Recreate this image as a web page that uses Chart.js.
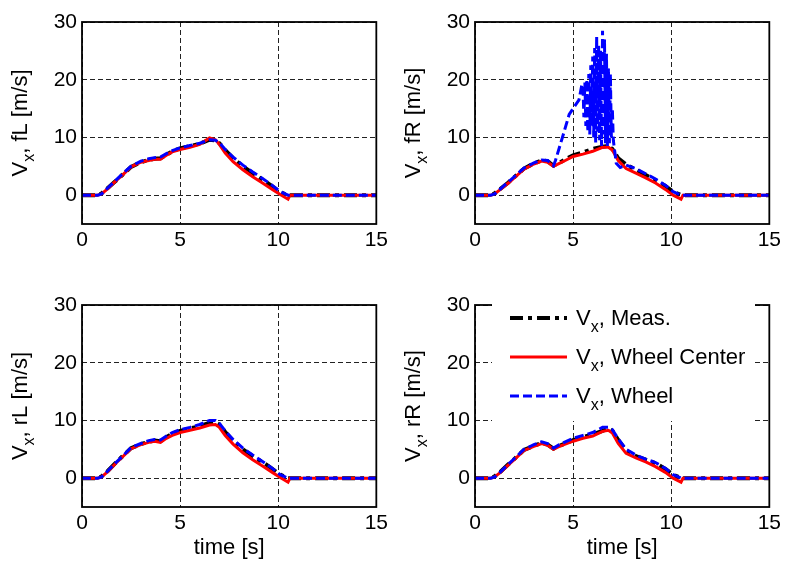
<!DOCTYPE html>
<html>
<head>
<meta charset="utf-8">
<script src="https://cdn.jsdelivr.net/npm/chart.js@4.4.1/dist/chart.umd.min.js"></script>
<style>
  body { margin: 0; background: #fff; }
  canvas { position: absolute; }
</style>
</head>
<body>
<canvas id="fL" width="392" height="283" style="left:0;top:0"></canvas>
<canvas id="fR" width="392" height="283" style="left:393px;top:0"></canvas>
<canvas id="rL" width="392" height="283" style="left:0;top:283px"></canvas>
<canvas id="rR" width="392" height="283" style="left:393px;top:283px"></canvas>
<script>
// axis ticks
const xTicks = [0, 5, 10, 15];
const yTicks = [0, 10, 20, 30];

// common time base [s]
const time = [0, 0.8, 1.0, 1.3, 1.7, 2.1, 2.5, 3.0, 3.4, 3.7, 4.0, 4.3, 4.6, 5.0, 5.5, 6.0, 6.5, 6.8, 7.0, 7.3, 7.7, 8.2, 8.7, 9.2, 9.7, 10.1, 10.5, 10.6, 15];

// front left
const fLMeas   = [0, 0, 0.3, 1.2, 2.4, 3.6, 4.9, 5.7, 6.1, 6.3, 6.4, 7.0, 7.6, 8.1, 8.5, 8.9, 9.6, 9.5, 9.0, 7.8, 6.4, 5.0, 3.8, 2.7, 1.5, 0.5, 0, 0, 0];
const fLCenter = [0, 0, 0.2, 1.1, 2.4, 3.6, 4.9, 5.7, 6.0, 6.2, 6.2, 6.9, 7.5, 7.9, 8.3, 8.8, 9.9, 9.6, 8.8, 7.3, 5.8, 4.4, 3.2, 2.1, 1.0, 0.1, -0.7, 0, 0];
const fLWheel  = [0, 0, 0.2, 1.2, 2.5, 3.8, 5.0, 5.9, 6.3, 6.5, 6.6, 7.2, 7.7, 8.2, 8.6, 9.0, 9.6, 9.5, 9.1, 7.9, 6.6, 5.2, 4.0, 2.9, 1.7, 0.6, 0, 0, 0];

// front right
const fRMeas   = [0, 0, 0.3, 1.1, 2.2, 3.4, 4.6, 5.5, 6.0, 5.9, 5.1, 5.6, 6.2, 6.9, 7.4, 8.0, 8.4, 8.5, 8.0, 6.4, 5.3, 4.4, 3.5, 2.6, 1.6, 0.6, 0, 0, 0];
const fRCenter = [0, 0, 0.2, 1.0, 2.1, 3.3, 4.5, 5.4, 5.9, 5.7, 5.0, 5.5, 6.0, 6.7, 7.1, 7.6, 8.3, 8.3, 7.8, 6.0, 4.6, 3.8, 3.0, 2.1, 1.0, 0.0, -0.7, 0, 0];
// front right wheel speed has its own time base (wheel spin)
const fRWheelTime = [0, 0.8, 1.0, 1.3, 1.7, 2.1, 2.5, 3.0, 3.4, 3.7, 4.0, 4.1, 4.5, 4.8, 5.1, 5.3, 5.45,
  5.50, 5.55, 5.60, 5.65, 5.70, 5.75, 5.80, 5.85, 5.90, 5.95, 6.00, 6.05, 6.10, 6.15, 6.20, 6.25,
  6.30, 6.35, 6.40, 6.45, 6.50, 6.55, 6.60, 6.65, 6.70, 6.75, 6.80, 6.85, 6.90, 6.95, 7.00,
  7.05, 7.2, 7.4, 7.7, 8.2, 8.7, 9.2, 9.7, 10.1, 10.5, 15];
const fRWheel = [0, 0, 0.2, 1.1, 2.3, 3.5, 4.7, 5.6, 6.1, 6.0, 5.1, 6.0, 10.5, 14.0, 15.5, 16.5, 19.2,
  19.0, 13.5, 19.5, 12.0, 20.0, 11.0, 21.0, 10.5, 22.5, 12.0, 24.0, 10.0, 25.5, 9.0, 27.5, 11.0,
  26.0, 9.5, 25.0, 8.5, 28.5, 10.5, 27.0, 9.0, 24.5, 8.5, 22.0, 9.0, 21.0, 10.0, 15.0,
  9.5, 5.5, 4.8, 5.2, 4.6, 3.7, 2.8, 1.7, 0.6, 0, 0];

// rear left
const rLMeas   = [0, 0, 0.3, 1.2, 2.6, 3.9, 5.2, 5.9, 6.3, 6.5, 6.4, 7.1, 7.7, 8.2, 8.6, 9.0, 9.6, 9.7, 9.3, 8.0, 6.5, 5.0, 3.8, 2.8, 1.6, 0.6, 0, 0, 0];
const rLCenter = [0, 0, 0.2, 1.1, 2.5, 3.8, 5.1, 5.8, 6.2, 6.4, 6.2, 6.9, 7.4, 7.9, 8.3, 8.7, 9.2, 9.3, 8.8, 7.4, 5.9, 4.4, 3.2, 2.1, 1.0, 0.1, -0.7, 0, 0];
const rLWheel  = [0, 0, 0.2, 1.2, 2.6, 3.9, 5.3, 6.0, 6.5, 6.7, 6.6, 7.3, 7.9, 8.4, 8.8, 9.3, 10.0, 10.0, 9.5, 8.2, 6.7, 5.2, 4.0, 2.9, 1.7, 0.6, 0, 0, 0];

// rear right
const rRMeas   = [0, 0, 0.3, 1.1, 2.4, 3.6, 4.9, 5.6, 6.1, 5.8, 5.1, 5.6, 6.0, 6.6, 7.1, 7.6, 8.2, 8.6, 8.2, 6.6, 4.8, 3.8, 3.2, 2.6, 1.6, 0.6, 0, 0, 0];
const rRCenter = [0, 0, 0.2, 1.0, 2.3, 3.5, 4.8, 5.5, 6.0, 5.7, 5.0, 5.5, 5.9, 6.4, 6.9, 7.3, 8.1, 8.3, 7.8, 6.0, 4.3, 3.5, 2.8, 2.0, 1.0, 0.0, -0.7, 0, 0];
const rRWheel  = [0, 0, 0.2, 1.1, 2.4, 3.7, 5.0, 5.8, 6.3, 6.0, 5.2, 5.8, 6.3, 6.9, 7.4, 7.9, 8.8, 8.8, 8.4, 6.8, 5.0, 4.0, 3.3, 2.7, 1.7, 0.6, 0, 0, 0];

const legendLabels = ['Meas.', 'Wheel Center', 'Wheel'];

const FONT = '"Liberation Sans", Arial, sans-serif';
const styles = {
  meas:   { color: '#000000', width: 4, dash: [13, 5, 4, 5] },
  center: { color: '#ff0000', width: 3, dash: [] },
  wheel:  { color: '#0000ff', width: 3, dash: [9, 4] }
};

function pts(t, v) {
  return t.map((x, i) => ({ x: x, y: v[i] }));
}

function ds(points, s) {
  return {
    data: points,
    borderColor: s.color,
    borderWidth: s.width,
    borderDash: s.dash,
    pointRadius: 0,
    tension: 0,
    fill: false
  };
}

// width of "V" + subscript "x" + rest
function vxWidth(ctx, rest, size) {
  ctx.font = size + 'px ' + FONT;
  let w = ctx.measureText('V').width + ctx.measureText(rest).width;
  ctx.font = Math.round(size * 0.72) + 'px ' + FONT;
  return w + ctx.measureText('x').width;
}
function drawVx(ctx, x, y, rest, size) {
  ctx.textAlign = 'left';
  ctx.textBaseline = 'alphabetic';
  ctx.font = size + 'px ' + FONT;
  ctx.fillText('V', x, y);
  let w = ctx.measureText('V').width;
  ctx.font = Math.round(size * 0.72) + 'px ' + FONT;
  ctx.fillText('x', x + w, y + size * 0.3);
  w += ctx.measureText('x').width;
  ctx.font = size + 'px ' + FONT;
  ctx.fillText(rest, x + w, y);
}

const panelPlugin = {
  id: 'panel',
  afterDatasetsDraw(chart, args, opts) {
    const { ctx, chartArea: a } = chart;
    ctx.save();
    // box around the axes
    ctx.strokeStyle = '#000';
    ctx.lineWidth = 1.8;
    ctx.setLineDash([]);
    ctx.strokeRect(a.left, a.top, a.right - a.left, a.bottom - a.top);
    // y title, rotated
    ctx.fillStyle = '#000';
    const rest = ', ' + opts.wheel + ' [m/s]';
    const w = vxWidth(ctx, rest, 22);
    ctx.translate(a.left - 55, (a.top + a.bottom) / 2);
    ctx.rotate(-Math.PI / 2);
    drawVx(ctx, -w / 2, 0, rest, 22);
    ctx.restore();
    if (opts.xTitle) {
      ctx.save();
      ctx.fillStyle = '#000';
      ctx.font = '22px ' + FONT;
      ctx.textAlign = 'center';
      ctx.textBaseline = 'alphabetic';
      ctx.fillText('time [s]', (a.left + a.right) / 2, a.bottom + 47);
      ctx.restore();
    }
  },
  afterDraw(chart, args, opts) {
    if (!opts.legend) return;
    const { ctx, chartArea: a } = chart;
    ctx.save();
    ctx.fillStyle = '#fff';
    ctx.fillRect(a.left + 17, a.top - 5, 263, 121);
    const keys = ['meas', 'center', 'wheel'];
    legendLabels.forEach((lab, i) => {
      const s = styles[keys[i]];
      const y = a.top + 13 + i * 39;
      ctx.strokeStyle = s.color;
      ctx.lineWidth = s.width;
      ctx.setLineDash(s.dash);
      ctx.beginPath();
      ctx.moveTo(a.left + 35, y);
      ctx.lineTo(a.left + 92, y);
      ctx.stroke();
      ctx.fillStyle = '#000';
      drawVx(ctx, a.left + 101, y + 7, ', ' + lab, 22);
    });
    ctx.restore();
  }
};

function makeChart(id, datasets, wheel, opts) {
  return new Chart(document.getElementById(id), {
    type: 'line',
    data: { datasets: datasets },
    plugins: [panelPlugin],
    options: {
      responsive: false,
      animation: false,
      devicePixelRatio: 1,
      layout: { padding: { left: 0, right: opts.right, top: 22, bottom: 0 } },
      plugins: {
        legend: { display: false },
        tooltip: { enabled: false },
        panel: { wheel: wheel, xTitle: opts.xTitle, legend: opts.legend }
      },
      scales: {
        x: {
          type: 'linear',
          min: 0,
          max: 15,
          afterBuildTicks: (s) => { s.ticks = xTicks.map(v => ({ value: v })); },
          afterFit: (s) => { s.height = 59; },
          grid: { color: '#222', lineWidth: 1, drawTicks: false },
          border: { display: false, dash: [5, 3] },
          ticks: { color: '#000', padding: 4, font: { size: 21, family: FONT } }
        },
        y: {
          min: -5,
          max: 30,
          afterBuildTicks: (s) => { s.ticks = yTicks.map(v => ({ value: v })); },
          afterFit: (s) => { s.width = 82; },
          grid: { color: '#222', lineWidth: 1, drawTicks: false },
          border: { display: false, dash: [5, 3] },
          ticks: { color: '#000', padding: 5, font: { size: 21, family: FONT } }
        }
      }
    }
  });
}

makeChart('fL', [
  ds(pts(time, fLWheel), styles.wheel),
  ds(pts(time, fLCenter), styles.center),
  ds(pts(time, fLMeas), styles.meas)
], 'fL', { right: 13 });

makeChart('fR', [
  ds(pts(fRWheelTime, fRWheel), styles.wheel),
  ds(pts(time, fRCenter), styles.center),
  ds(pts(time, fRMeas), styles.meas)
], 'fR', { right: 12 });

makeChart('rL', [
  ds(pts(time, rLWheel), styles.wheel),
  ds(pts(time, rLCenter), styles.center),
  ds(pts(time, rLMeas), styles.meas)
], 'rL', { right: 13, xTitle: true });

makeChart('rR', [
  ds(pts(time, rRWheel), styles.wheel),
  ds(pts(time, rRCenter), styles.center),
  ds(pts(time, rRMeas), styles.meas)
], 'rR', { right: 12, xTitle: true, legend: true });
</script>
</body>
</html>
